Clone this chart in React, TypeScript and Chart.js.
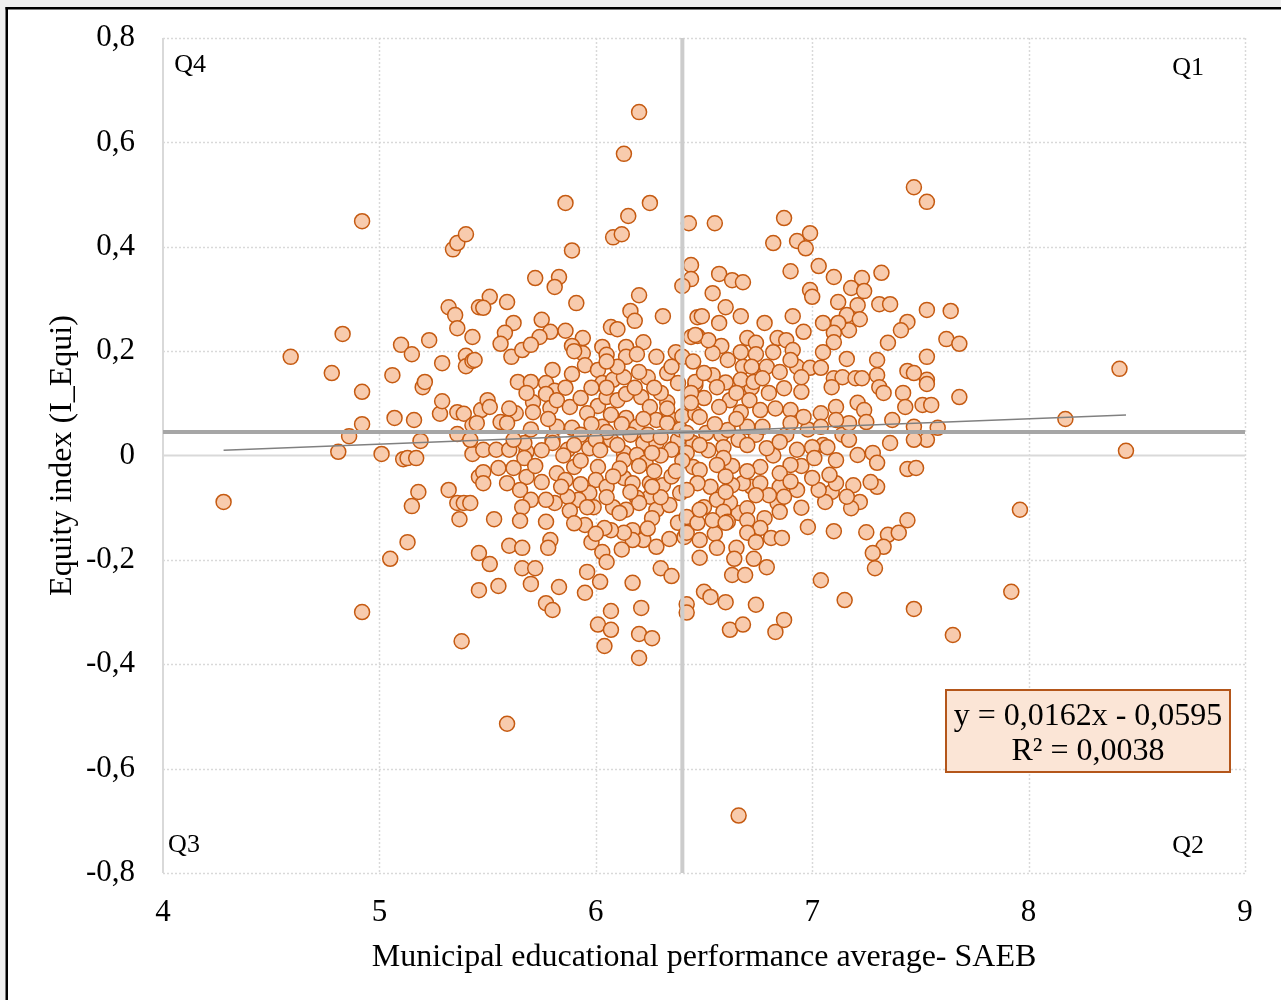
import React, { useEffect, useRef } from "react";
import { Chart, registerables } from "chart.js";

Chart.register(...registerables);

// ---- Data (x = SAEB average, y = equity index) ----
const westPoints: [number, number][] = [
  [4.28,-0.089],[4.59,0.189],[4.78,0.158],[4.83,0.233],[4.81,0.007],[4.86,0.037],[4.92,0.449],[4.92,-0.300],
  [4.92,0.060],[4.92,0.122],[5.01,0.003],[5.05,-0.198],[5.06,0.154],[5.07,0.072],[5.10,0.212],[5.11,-0.007],
  [5.13,-0.005],[5.13,-0.166],[5.15,0.194],[5.15,-0.097],[5.16,0.068],[5.17,-0.005],[5.18,-0.070],[5.19,0.028],
  [5.20,0.131],[5.21,0.141],[5.23,0.221],[5.28,0.080],[5.29,0.177],[5.29,0.104],[5.32,-0.066],[5.32,0.284],
  [5.35,0.269],[5.34,0.395],[5.36,0.407],[5.40,0.424],[5.36,0.244],[5.36,0.083],[5.38,-0.356],[5.37,-0.122],
  [5.36,-0.091],[5.39,-0.091],[5.36,0.041],[5.40,0.191],[5.40,0.171],[5.43,0.181],[5.43,0.227],[5.43,0.003],
  [5.39,0.080],[5.43,0.058],[5.46,0.284],[5.47,0.087],[5.46,-0.041],[5.46,-0.187],[5.46,-0.258],
];

const northCentralPoints: [number, number][] = [
  [6.20,0.658],[6.13,0.578],[5.86,0.484],[6.25,0.484],[6.15,0.459],[6.08,0.418],[6.12,0.424],[6.43,0.445],
  [5.89,0.393],[5.72,0.340],[5.83,0.342],[5.81,0.323],[6.20,0.307],[5.91,0.292],[6.44,0.365],[6.44,0.338],
  [6.40,0.325],[5.51,0.304],[5.48,0.283],[5.59,0.294],[6.16,0.277],[6.18,0.258],[6.31,0.267],[6.47,0.265],
  [5.62,0.254],[5.58,0.235],[5.75,0.260],[5.79,0.237],[5.74,0.227],[5.86,0.239],[6.07,0.246],[6.10,0.242],
  [5.94,0.225],[5.56,0.214],[5.61,0.189],[5.66,0.202],[5.70,0.212],[5.89,0.210],[5.94,0.196],[6.03,0.208],
  [6.05,0.193],[6.14,0.208],[6.22,0.217],[6.14,0.189],[6.19,0.194],[6.28,0.189],[6.37,0.198],[6.44,0.227],
  [6.47,0.229],[5.44,0.183],[5.80,0.164],[5.95,0.173],[5.89,0.156],[5.64,0.141],[5.70,0.141],[5.77,0.139],
  [5.81,0.124],[6.01,0.164],[6.03,0.139],[6.08,0.145],[6.13,0.150],[6.24,0.150],[6.33,0.158],[6.38,0.139],
  [6.40,0.189],[6.46,0.135],[5.50,0.106],[5.51,0.093],[5.63,0.081],[5.71,0.102],[5.71,0.083],[5.77,0.118],
  [5.79,0.091],[5.82,0.106],[5.88,0.093],[5.93,0.110],[6.01,0.095],[6.05,0.112],[6.10,0.106],[6.14,0.118],
  [6.21,0.112],[6.25,0.093],[6.33,0.102],[6.44,0.106],[5.96,0.081],[6.07,0.078],[6.14,0.072],[6.28,0.068],
  [6.34,0.072],[5.56,0.064],[5.59,0.062],[5.45,0.062],[5.82,0.055],[5.89,0.053],[6.03,0.055],[6.19,0.055],
  [6.33,0.062],[5.48,0.011],[5.54,0.011],[5.60,0.011],[5.68,0.007],[5.80,0.030],[5.87,0.011],[5.97,0.014],
  [6.07,0.030],[6.13,0.005],[6.22,0.024],[6.28,0.024],[6.36,0.014],[6.45,0.024],[5.42,0.030],
  [6.05,0.045],[6.10,0.020],[6.16,0.040],[6.24,0.040],[6.30,0.035],[6.38,0.030],[6.00,0.030],[5.93,0.040],
  [6.40,0.075],[6.30,0.120],[6.18,0.130],[6.05,0.130],
];

const southCentralPoints: [number, number][] = [
  [5.67,0.024],[5.67,-0.005],[5.80,0.024],[5.90,0.020],[6.13,-0.009],[6.19,0.001],[6.23,-0.014],[6.35,0.011],
  [6.42,0.005],[6.45,-0.022],[5.48,-0.032],[5.48,-0.053],[5.55,-0.024],[5.62,-0.024],[5.68,-0.041],[5.59,-0.053],
  [5.65,-0.066],[5.70,-0.085],[5.66,-0.099],[5.75,-0.051],[5.82,-0.034],[5.86,-0.047],[5.90,-0.022],[6.01,-0.022],
  [6.00,-0.047],[5.97,-0.072],[5.99,-0.099],[5.92,-0.085],[5.87,-0.079],[5.81,-0.091],[5.77,-0.085],[5.88,-0.106],
  [5.96,-0.099],[6.13,-0.043],[6.17,-0.053],[6.25,-0.053],[6.31,-0.057],[6.39,-0.072],[6.25,-0.079],[6.19,-0.081],
  [6.20,-0.091],[6.14,-0.104],[6.08,-0.099],[6.11,-0.110],[6.28,-0.104],[6.34,-0.095],[6.38,-0.129],[6.41,-0.156],
  [6.26,-0.120],[6.17,-0.143],[6.22,-0.162],[6.28,-0.175],[6.17,-0.162],[6.13,-0.148],[6.07,-0.143],[6.04,-0.139],
  [5.95,-0.133],[5.98,-0.166],[6.03,-0.185],[6.05,-0.204],[5.96,-0.223],[6.02,-0.242],[5.95,-0.263],[6.07,-0.298],
  [6.01,-0.324],[6.07,-0.334],[6.04,-0.365],[6.17,-0.244],[6.21,-0.292],[6.20,-0.342],[6.26,-0.350],[6.20,-0.388],
  [6.30,-0.216],[6.35,-0.231],[6.42,-0.285],[6.42,-0.301],[5.53,-0.122],[5.65,-0.125],[5.77,-0.127],[5.60,-0.173],
  [5.66,-0.177],[5.79,-0.162],[5.78,-0.177],[5.51,-0.208],[5.66,-0.216],[5.72,-0.216],[5.70,-0.246],[5.83,-0.252],
  [5.55,-0.250],[5.77,-0.283],[5.80,-0.296],[5.59,-0.514],[5.42,-0.091],
  [6.11,-0.025],[6.27,-0.030],[6.35,-0.040],[6.05,-0.060],[5.93,-0.055],[6.20,-0.020],[6.30,0.000],[6.40,-0.010],
];

const northEastPoints: [number, number][] = [
  [7.47,0.514],[7.53,0.486],[7.53,0.279],[7.64,0.277],[7.62,0.223],[7.68,0.214],[7.53,0.189],[7.53,0.145],
  [7.53,0.137],[7.44,0.162],[7.47,0.158],[7.42,0.120],[7.43,0.093],[7.51,0.097],[7.55,0.097],[7.44,0.256],
  [7.41,0.240],[7.35,0.216],[7.32,0.350],[7.31,0.290],[7.36,0.290],[7.30,0.183],[7.30,0.154],[7.31,0.131],
  [7.33,0.120],[7.68,0.112],[7.37,0.068],[7.47,0.055],[7.58,0.053],[7.53,0.030],[7.47,0.030],[7.36,0.024],
  [6.55,0.445],[6.87,0.455],[6.82,0.407],[6.93,0.411],[6.99,0.426],[6.97,0.397],[6.90,0.353],[7.03,0.363],
  [7.10,0.342],[7.23,0.340],[7.18,0.321],[7.24,0.315],[6.57,0.348],[6.63,0.336],[6.68,0.332],[6.54,0.311],
  [6.99,0.317],[7.00,0.304],[7.12,0.294],[7.21,0.288],[7.16,0.269],[7.22,0.261],[7.17,0.240],[7.12,0.254],
  [7.10,0.235],[7.10,0.217],[7.05,0.254],[6.96,0.237],[6.91,0.267],[6.49,0.267],[6.57,0.254],[6.60,0.284],
  [6.67,0.267],[6.78,0.254],[6.70,0.225],[6.74,0.216],[6.84,0.225],[6.88,0.221],[6.91,0.202],[6.82,0.198],
  [6.74,0.194],[6.67,0.198],[6.54,0.196],[6.52,0.221],[6.46,0.231],[6.61,0.183],[6.72,0.170],[6.79,0.170],
  [6.90,0.183],[7.05,0.198],[7.16,0.185],[6.99,0.168],[7.04,0.168],[7.10,0.148],[7.14,0.150],[7.20,0.148],
  [7.23,0.148],[7.09,0.131],[6.87,0.129],[6.95,0.122],[6.67,0.145],[6.73,0.141],[6.77,0.148],[6.54,0.154],
  [6.46,0.141],[6.56,0.131],[6.50,0.158],[6.44,0.120],[6.44,0.101],[6.62,0.106],[6.71,0.106],[6.76,0.087],
  [6.67,0.083],[6.57,0.093],[6.48,0.074],[6.90,0.087],[6.96,0.074],[7.04,0.081],[7.11,0.093],[7.21,0.101],
  [7.24,0.087],[7.25,0.064],[7.17,0.062],[7.11,0.068],[7.04,0.055],[6.90,0.062],[6.77,0.055],[6.70,0.055],
  [6.61,0.049],[6.51,0.043],[6.42,0.043],[6.48,0.020],[6.59,0.016],[6.70,0.020],[6.79,0.014],[6.85,0.026],
  [6.93,0.011],[7.00,0.016],[7.07,0.016],[7.17,0.030],[7.28,0.005],
  [6.55,0.060],[6.65,0.070],[6.65,0.120],[6.80,0.120],[6.85,0.160],[6.95,0.150],
];

const southEastPoints: [number, number][] = [
  [7.44,-0.026],[7.48,-0.024],[7.30,-0.014],[7.30,-0.060],[7.27,-0.051],[7.19,-0.057],[7.22,-0.089],[7.18,-0.101],
  [7.21,0.001],[7.16,-0.079],[7.11,-0.053],[7.08,-0.037],[7.06,-0.089],[7.03,-0.066],[7.00,-0.043],[7.11,-0.009],
  [7.01,-0.005],[6.93,-0.066],[6.90,-0.018],[6.85,-0.034],[6.84,-0.091],[6.85,-0.108],[6.87,-0.079],[6.80,-0.076],
  [6.76,-0.022],[6.76,-0.053],[6.68,-0.053],[6.63,-0.057],[6.59,-0.005],[6.56,-0.018],[6.48,-0.028],[6.47,-0.053],
  [6.42,-0.066],[6.50,-0.099],[6.56,-0.085],[6.59,-0.108],[6.61,-0.127],[6.70,-0.101],[6.70,-0.124],[6.74,-0.076],
  [6.76,-0.139],[6.70,-0.148],[6.74,-0.166],[6.81,-0.158],[6.86,-0.158],[6.98,-0.137],[7.10,-0.145],[7.25,-0.147],
  [7.35,-0.152],[7.40,-0.148],[7.44,-0.124],[7.33,-0.175],[7.28,-0.187],[7.29,-0.216],[7.04,-0.239],[7.15,-0.277],
  [7.47,-0.294],[7.65,-0.344],[6.48,-0.162],[6.48,-0.196],[6.56,-0.177],[6.65,-0.177],[6.64,-0.198],[6.73,-0.198],
  [6.79,-0.214],[6.63,-0.229],[6.69,-0.229],[6.50,-0.261],[6.53,-0.271],[6.60,-0.281],[6.74,-0.286],[6.62,-0.334],
  [6.68,-0.324],[6.83,-0.338],[6.87,-0.315],[6.66,-0.690],[6.42,-0.118],[6.42,-0.148],[6.47,-0.129],[6.48,-0.104],
  [6.54,-0.124],[6.60,-0.129],[6.60,-0.040],[6.70,-0.030],[6.60,-0.070],[6.90,-0.050],
];

const denseCorePoints: [number, number][] = [
  [5.62,0.030],[5.70,0.050],[5.75,0.010],[5.85,0.000],[5.93,-0.010],[5.98,0.060],[6.02,0.010],[6.08,-0.040],
  [6.12,0.060],[6.16,-0.070],[6.22,0.070],[6.26,0.005],[6.30,-0.080],[6.33,0.090],[6.37,-0.030],[6.39,0.050],
  [6.46,0.080],[6.52,0.010],[6.53,-0.060],[6.58,0.040],[6.63,-0.020],[6.66,0.030],[6.72,-0.060],[6.74,0.040],
  [6.82,0.000],[6.88,0.040],[6.95,-0.020],[6.98,0.050],[7.05,0.020],[7.09,-0.070],[7.14,0.040],[5.72,-0.020],
  [5.78,0.070],[5.86,0.130],[5.98,0.130],[6.10,0.170],[6.20,0.160],[6.27,0.130],[6.35,0.170],[6.50,0.110],
  [6.60,0.140],[6.72,0.130],[6.83,0.090],[6.93,0.170],[5.84,-0.060],[5.90,-0.130],[6.00,-0.150],[6.12,-0.180],
  [6.24,-0.140],[6.34,-0.160],[6.55,-0.150],[6.66,-0.110],[6.78,-0.120],[6.95,-0.100],[6.05,-0.080],[6.26,-0.060],
  [6.62,-0.090],[6.85,-0.060],[5.60,0.090],[5.68,0.120],[6.45,0.180],[6.58,0.210],[6.68,0.170],[6.05,0.180],
  [5.90,0.200],
];

const farEastPoints: [number, number][] = [
  [7.92,-0.261],[7.96,-0.104],[8.17,0.070],[8.42,0.166],[8.45,0.009],
];

// Trend line (from the chart's equation) and quadrant dividers (means)
const trendSlope = 0.0162;
const trendIntercept = -0.0595;
const trendR2 = 0.0038;
const trendXRange = [4.28, 8.45];
const meanX = 6.40;
const meanY = 0.045;

const xTicks = [4, 5, 6, 7, 8, 9];
const yTicks = [-0.8, -0.6, -0.4, -0.2, 0, 0.2, 0.4, 0.6, 0.8];
const quadrantLabels = ["Q1", "Q2", "Q3", "Q4"];

const xTitle = "Municipal educational performance average- SAEB";
const yTitle = "Equity index (I_Equi)";

const SERIF = "'Liberation Serif', 'Times New Roman', serif";

const fmtComma = (v: number, digits: number) =>
  v.toFixed(digits).replace(".", ",");

const yTickLabel = (v: number) => {
  const r = Math.round(v * 10) / 10;
  return r === 0 ? "0" : fmtComma(r, 1);
};

export default function App() {
  const canvasRef = useRef<HTMLCanvasElement | null>(null);

  useEffect(() => {
    const canvas = canvasRef.current;
    if (!canvas) return;

    const allPoints = [
      ...westPoints,
      ...northCentralPoints,
      ...southCentralPoints,
      ...denseCorePoints,
      ...northEastPoints,
      ...southEastPoints,
      ...farEastPoints,
    ].map(([x, y]) => ({ x, y }));

    const trendPts = trendXRange.map((x) => ({ x, y: trendSlope * x + trendIntercept }));

    const framePlugin = {
      id: "frame",
      beforeDraw(chart: any) {
        const { ctx, width, height } = chart;
        ctx.save();
        ctx.fillStyle = "#f0f0f0";
        ctx.fillRect(0, 0, width, height);
        ctx.fillStyle = "#ffffff";
        ctx.fillRect(8, 9, width - 8, height - 9);
        ctx.fillStyle = "#000000";
        ctx.fillRect(5.5, 7, 2.5, height - 7);
        ctx.fillRect(5.5, 7, width - 5.5, 2.5);
        ctx.restore();
      },
    };

    const gridPlugin = {
      id: "customGrid",
      beforeDatasetsDraw(chart: any) {
        const { ctx, chartArea: a, scales } = chart;
        const xs = scales.x;
        const ys = scales.y;
        ctx.save();
        ctx.strokeStyle = "#d9d9d9";
        ctx.lineWidth = 1.5;
        ctx.setLineDash([2, 2]);
        xTicks.forEach((t) => {
          if (t === 4) return;
          const px = Math.round(xs.getPixelForValue(t)) + 0.5;
          ctx.beginPath();
          ctx.moveTo(px, a.top);
          ctx.lineTo(px, a.bottom);
          ctx.stroke();
        });
        yTicks.forEach((t) => {
          if (t === 0) return;
          const py = Math.round(ys.getPixelForValue(t)) + 0.5;
          ctx.beginPath();
          ctx.moveTo(a.left, py);
          ctx.lineTo(a.right, py);
          ctx.stroke();
        });
        ctx.setLineDash([]);
        ctx.lineWidth = 2;
        const zy = ys.getPixelForValue(0);
        ctx.beginPath();
        ctx.moveTo(a.left, zy);
        ctx.lineTo(a.right, zy);
        ctx.stroke();
        const lx = xs.getPixelForValue(4);
        ctx.beginPath();
        ctx.moveTo(lx, a.top);
        ctx.lineTo(lx, a.bottom);
        ctx.stroke();
        ctx.restore();
      },
    };

    const annotationPlugin = {
      id: "annotations",
      afterDatasetsDraw(chart: any) {
        const { ctx, chartArea: a, scales } = chart;
        const xs = scales.x;
        const ys = scales.y;
        ctx.save();
        ctx.fillStyle = "#000000";
        ctx.font = `26px ${SERIF}`;
        ctx.textAlign = "center";
        ctx.textBaseline = "middle";
        const qPos: Record<string, [number, number]> = {
          Q1: [8.737, 0.742],
          Q2: [8.737, -0.748],
          Q3: [4.097, -0.746],
          Q4: [4.125, 0.748],
        };
        quadrantLabels.forEach((q) => {
          const [qx, qy] = qPos[q];
          ctx.fillText(q, xs.getPixelForValue(qx), ys.getPixelForValue(qy));
        });

        // equation box
        const bw = 284;
        const bh = 82;
        const bx = a.right - 15 - bw;
        const by = a.bottom - 101 - bh;
        ctx.fillStyle = "#fbe5d6";
        ctx.fillRect(bx, by, bw, bh);
        ctx.strokeStyle = "#b4561a";
        ctx.lineWidth = 2;
        ctx.strokeRect(bx, by, bw, bh);
        ctx.fillStyle = "#000000";
        ctx.font = `32px ${SERIF}`;
        const eq = `y = ${fmtComma(trendSlope, 4)}x - ${fmtComma(Math.abs(trendIntercept), 4)}`;
        const r2 = `R² = ${fmtComma(trendR2, 4)}`;
        ctx.fillText(eq, bx + bw / 2, by + 27);
        ctx.fillText(r2, bx + bw / 2, by + 62);
        ctx.restore();
      },
    };

    const chart = new Chart(canvas, {
      type: "scatter",
      data: {
        datasets: [
          {
            label: "Trend",
            data: trendPts,
            showLine: true,
            borderColor: "#808080",
            borderWidth: 1.5,
            pointRadius: 0,
            fill: false,
            order: 0,
          },
          {
            label: "Mean y",
            data: [{ x: 4, y: meanY }, { x: 9, y: meanY }],
            showLine: true,
            borderColor: "#a6a6a6",
            borderWidth: 4,
            pointRadius: 0,
            fill: false,
            order: 1,
          },
          {
            label: "Mean x",
            data: [{ x: meanX, y: -0.8 }, { x: meanX, y: 0.8 }],
            showLine: true,
            borderColor: "#cccccc",
            borderWidth: 4,
            pointRadius: 0,
            fill: false,
            order: 1,
          },
          {
            label: "Municipalities",
            data: allPoints,
            pointRadius: 7.5,
            pointBackgroundColor: "#f8cbad",
            pointBorderColor: "#c55a11",
            pointBorderWidth: 1.5,
            order: 2,
          },
        ],
      } as any,
      options: {
        animation: false,
        responsive: false,
        events: [],
        layout: { autoPadding: false, padding: { left: 0, top: 38, right: 36, bottom: 0 } },
        plugins: {
          legend: { display: false },
          tooltip: { enabled: false },
        },
        scales: {
          x: {
            type: "linear",
            min: 4,
            max: 9,
            afterBuildTicks: (s: any) => {
              s.ticks = xTicks.map((v) => ({ value: v }));
            },
            ticks: {
              color: "#000000",
              font: { family: SERIF, size: 31 },
              padding: 21,
              callback: (v: any) => String(v),
            },
            grid: { display: false, drawTicks: false },
            border: { display: false },
            title: {
              display: true,
              text: xTitle,
              color: "#000000",
              font: { family: SERIF, size: 32 },
              padding: { top: 0, bottom: 23 },
            },
            afterFit: (s: any) => {
              s.height = 127;
              s.paddingLeft = 0;
              s.paddingRight = 0;
            },
          },
          y: {
            type: "linear",
            min: -0.8,
            max: 0.8,
            afterBuildTicks: (s: any) => {
              s.ticks = yTicks.map((v) => ({ value: v }));
            },
            ticks: {
              color: "#000000",
              font: { family: SERIF, size: 31 },
              padding: 28,
              callback: (v: any) => yTickLabel(Number(v)),
            },
            grid: { display: false, drawTicks: false },
            border: { display: false },
            title: {
              display: true,
              text: yTitle,
              color: "#000000",
              font: { family: SERIF, size: 32 },
              padding: { top: 43, bottom: 0 },
            },
            afterFit: (s: any) => {
              s.width = 163;
              s.paddingTop = 0;
              s.paddingBottom = 0;
            },
          },
        },
      } as any,
      plugins: [framePlugin, gridPlugin, annotationPlugin],
    });

    return () => chart.destroy();
  }, []);

  return (
    <div style={{ position: "fixed", left: 0, top: 0, width: 1281, height: 1000 }}>
      <canvas ref={canvasRef} width={1281} height={1000} style={{ display: "block" }} />
    </div>
  );
}
